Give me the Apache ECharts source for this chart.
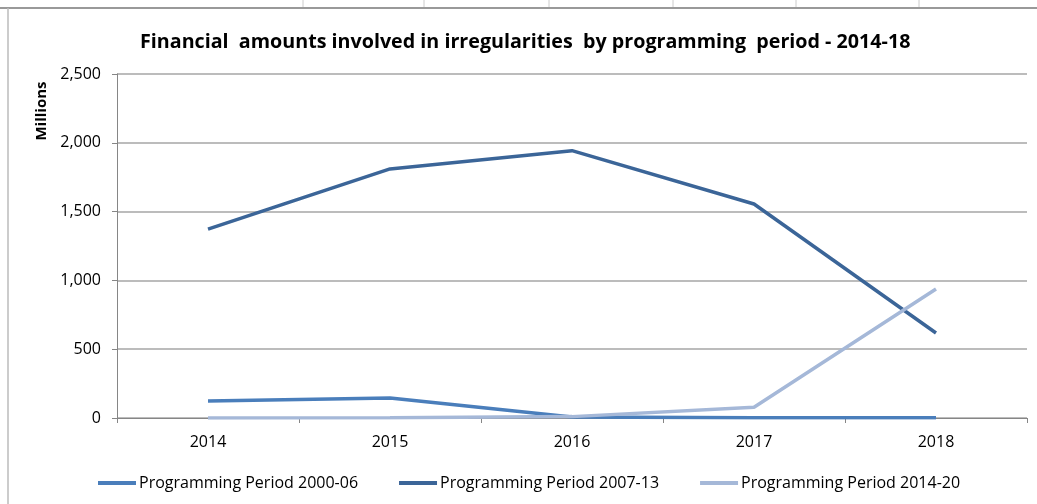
<!DOCTYPE html>
<html>
<head>
<meta charset="utf-8">
<script src="https://cdn.jsdelivr.net/npm/echarts@6/dist/echarts.min.js"></script>
<style>html,body{margin:0;padding:0;background:#fff}#c{width:1037px;height:504px}</style>
</head>
<body>
<div id="c"></div>
<script>
var categories = ['2014', '2015', '2016', '2017', '2018'];
var period2000 = [124, 145, 8, 2, 1];
var period2007 = [1373, 1810, 1943, 1555, 618];
var period2014 = [0, 1, 10, 78, 937];
var seriesNames = ['Programming Period 2000-06', 'Programming Period 2007-13', 'Programming Period 2014-20'];
var yTicks = [0, 500, 1000, 1500, 2000, 2500];

var FONT = '"Open Sans", "DejaVu Sans", sans-serif';
var chart = echarts.init(document.getElementById('c'), null, {renderer: 'canvas'});
var cellXs = [303, 424, 549, 673, 796, 919];
var graphics = [
  {type: 'line', shape: {x1: 0, y1: 8, x2: 1037, y2: 8}, style: {stroke: '#999', lineWidth: 2}},
  {type: 'line', shape: {x1: 8, y1: 8, x2: 8, y2: 504}, style: {stroke: '#bbb', lineWidth: 1.5}},
  {type: 'text', x: 42, y: 111, rotation: Math.PI / 2, style: {text: 'Millions', font: 'bold 15px ' + FONT, fill: '#000', align: 'center', verticalAlign: 'middle'}}
];
cellXs.forEach(function (x) {
  graphics.push({type: 'line', shape: {x1: x, y1: 0, x2: x, y2: 7}, style: {stroke: '#ccc', lineWidth: 1}});
});

chart.setOption({
  animation: false,
  title: {
    text: 'Financial  amounts involved in irregularities  by programming  period - 2014-18',
    left: 140, top: 32, padding: 0,
    textStyle: {fontFamily: FONT, fontWeight: 'bold', fontSize: 19.7, color: '#000'}
  },
  graphic: graphics,
  legend: {
    data: seriesNames,
    left: 98, top: 475, padding: 0,
    icon: 'rect', itemWidth: 38, itemHeight: 4, itemGap: 41,
    textStyle: {fontFamily: FONT, fontSize: 16, color: '#000', padding: [0, 0, 0, -2]}
  },
  grid: {left: 117, right: 10, top: 74, bottom: 86},
  xAxis: {
    type: 'category', data: categories, boundaryGap: true,
    axisLine: {lineStyle: {color: '#868686', width: 1}},
    axisTick: {show: true, length: 5, lineStyle: {color: '#868686'}},
    axisLabel: {fontFamily: FONT, fontSize: 16, color: '#000', margin: 16}
  },
  yAxis: {
    type: 'value', min: 0, max: 2500, interval: 500,
    axisLine: {show: true, lineStyle: {color: '#868686', width: 1}},
    axisTick: {show: true, length: 5, lineStyle: {color: '#868686'}},
    splitLine: {lineStyle: {color: '#a6a6a6', width: 1.5}},
    axisLabel: {fontFamily: FONT, fontSize: 16, color: '#000', margin: 16,
      formatter: function (v) { return v.toLocaleString('en-US'); }}
  },
  series: [
    {name: seriesNames[0], type: 'line', data: period2000, showSymbol: false, symbol: 'none', z: 3,
      lineStyle: {color: '#4a7ebb', width: 3.5}, itemStyle: {color: '#4a7ebb'}},
    {name: seriesNames[1], type: 'line', data: period2007, showSymbol: false, symbol: 'none', z: 2,
      lineStyle: {color: '#3b6598', width: 3.5}, itemStyle: {color: '#3b6598'}},
    {name: seriesNames[2], type: 'line', data: period2014, showSymbol: false, symbol: 'none', z: 4,
      lineStyle: {color: '#a5b8d8', width: 3.5}, itemStyle: {color: '#a5b8d8'}}
  ]
});
</script>
</body>
</html>
